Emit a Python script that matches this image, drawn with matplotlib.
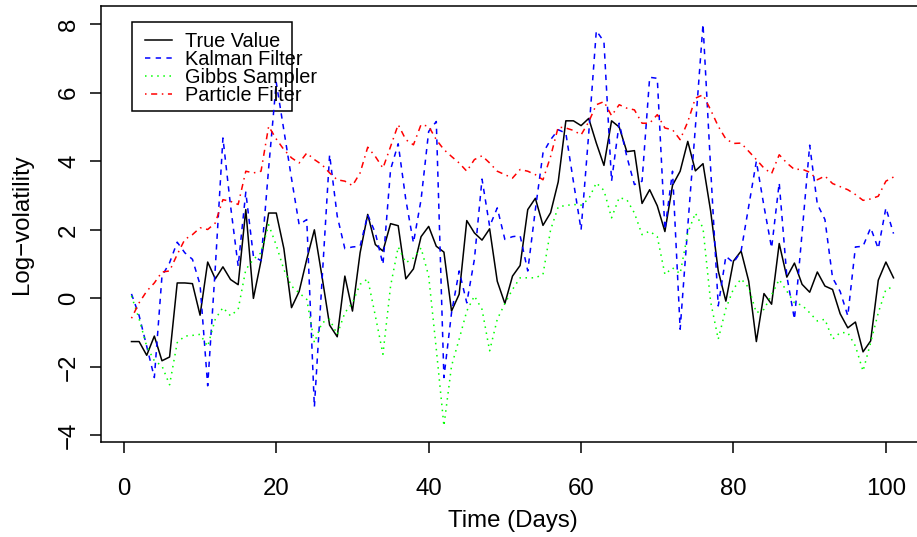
import numpy as np
import matplotlib
matplotlib.use("Agg")
import matplotlib.pyplot as plt
from matplotlib.patches import Rectangle

# one value per day (1..101)
days = np.arange(1, 102)

true_value = [-1.26, -1.26, -1.66, -1.10, -1.82, -1.71, 0.45, 0.45, 0.43, -0.49,
              1.06, 0.57, 0.92, 0.55, 0.40, 2.59, 0.00, 1.10, 2.49, 2.49,
              1.45, -0.27, 0.20, 1.14, 2.00, 0.64, -0.78, -1.12, 0.65, -0.37,
              1.33, 2.45, 1.57, 1.38, 2.18, 2.12, 0.57, 0.86, 1.80, 2.10,
              1.52, 1.35, -0.37, 0.12, 2.27, 1.91, 1.70, 2.03, 0.50, -0.15,
              0.65, 0.96, 2.59, 2.92, 2.13, 2.50, 3.40, 5.18, 5.18, 5.04,
              5.25, 4.53, 3.88, 5.18, 5.00, 4.28, 4.31, 2.77, 3.17, 2.70,
              1.95, 3.30, 3.71, 4.58, 3.72, 3.93, 2.55, 0.80, -0.08, 1.09,
              1.38, 0.50, -1.26, 0.14, -0.17, 1.60, 0.62, 1.03, 0.41, 0.18,
              0.77, 0.36, 0.26, -0.45, -0.86, -0.69, -1.56, -1.24, 0.53, 1.06,
              0.60]

kalman = [0.13, -0.50, -1.40, -2.31, 0.65, 1.04, 1.64, 1.33, 1.14, 0.40,
          -2.55, 0.90, 4.68, 2.70, 0.94, 3.10, 1.23, 1.10, 3.80, 6.30,
          4.90, 3.50, 2.15, 2.30, -3.17, 0.50, 4.19, 2.40, 1.45, 1.50,
          1.52, 2.44, 1.91, 0.99, 3.76, 4.51, 2.88, 1.62, 2.88, 4.87,
          5.16, -2.31, -0.42, 0.80, -0.13, 1.14, 3.48, 2.10, 2.64, 1.72,
          1.80, 1.83, 0.80, 2.59, 4.24, 4.63, 4.92, 4.82, 3.40, 2.00,
          4.80, 7.81, 7.49, 3.42, 5.11, 4.14, 3.32, 3.42, 6.45, 6.42,
          2.00, 3.71, -0.90, 2.10, 5.00, 8.00, 3.80, -0.22, 1.23, 1.04,
          1.38, 2.69, 4.00, 2.69, 1.47, 3.37, 0.65, -0.61, 1.91, 4.47,
          2.75, 2.30, 0.60, 0.20, -0.51, 1.50, 1.52, 2.06, 1.45, 2.64,
          1.89]

gibbs = [0.07, -0.60, -1.40, -1.82, -1.97, -2.52, -1.29, -1.10, -1.08, -1.05,
         -1.40, -0.60, -0.27, -0.51, -0.32, 0.84, 1.14, 1.33, 2.15, 1.55,
         0.84, 0.36, 0.16, -0.03, -1.29, -0.71, -0.61, -1.05, -0.42, -0.13,
         0.41, 0.57, -0.51, -1.63, 0.36, 1.50, 1.04, 1.18, 1.47, 0.65,
         -1.48, -3.72, -1.97, -1.19, -0.37, 0.07, -0.32, -1.53, -0.61, -0.15,
         0.26, 0.60, 0.60, 0.60, 0.70, 2.00, 2.67, 2.71, 2.74, 2.72,
         2.90, 3.37, 3.15, 2.35, 2.94, 2.88, 2.49, 1.86, 1.96, 1.80,
         0.70, 0.89, 0.72, 1.91, 2.49, 2.05, -0.10, -1.19, -0.30, 0.28,
         0.57, 0.31, -0.42, -0.32, 0.10, 0.55, 0.21, -0.13, -0.20, -0.42,
         -0.66, -0.61, -1.19, -1.00, -1.00, -1.39, -2.12, -1.29, -0.42, 0.26,
         0.34]

particle = [-0.58, -0.13, 0.21, 0.45, 0.77, 0.80, 1.28, 1.72, 1.86, 2.06,
            2.01, 2.20, 2.88, 2.83, 2.74, 3.71, 3.66, 3.71, 5.02, 4.65,
            4.34, 4.10, 3.95, 4.24, 4.05, 3.90, 3.66, 3.46, 3.42, 3.29,
            3.66, 4.41, 4.14, 3.80, 4.43, 5.07, 4.63, 4.48, 5.07, 5.02,
            4.63, 4.34, 4.14, 3.95, 3.71, 4.05, 4.16, 3.95, 3.71, 3.61,
            3.51, 3.76, 3.71, 3.61, 3.46, 4.14, 5.00, 4.97, 4.90, 4.77,
            5.15, 5.65, 5.74, 5.33, 5.65, 5.55, 5.50, 5.11, 5.11, 5.36,
            4.97, 4.92, 4.63, 5.15, 5.84, 5.94, 5.50, 5.02, 4.65, 4.52,
            4.53, 4.29, 4.05, 3.80, 3.64, 4.19, 3.95, 3.76, 3.77, 3.68,
            3.46, 3.57, 3.35, 3.26, 3.17, 3.03, 2.86, 2.90, 2.98, 3.42,
            3.54]

series = [true_value, kalman, gibbs, particle]
labels = ["True Value", "Kalman Filter", "Gibbs Sampler", "Particle Filter"]
colors = ["black", "#0000ff", "#00ff00", "#ff0000"]
dash_styles = [None, (3.5, 3.5), (1, 3), (1, 3, 4, 3)]

plt.rcParams["font.family"] = ["Liberation Sans", "DejaVu Sans"]

W, H = 917, 537
fig = plt.figure(figsize=(W / 100, H / 100), dpi=100)
# plot region in pixels: x 101..924 (runs past the right edge), y 6..442
L, R, T, B = 101, 924, 6, 442
ax = fig.add_axes([L / W, (H - B) / H, (R - L) / W, (B - T) / H])


def frac(px, py):
    # pixel position -> axes fraction
    return (px - L) / (R - L), (B - py) / (B - T)


lines = []
for vals, c, d in zip(series, colors, dash_styles):
    ln, = ax.plot(days, vals, color=c, lw=1.1)
    if d is not None:
        ln.set_dashes(d)
    lines.append(ln)

ax.set_xlim(-3, 105)
ax.set_ylim(-4.19, 8.53)
ax.set_xticks([0, 20, 40, 60, 80, 100])
ax.set_yticks([-4, -2, 0, 2, 4, 6, 8])

for s in ax.spines.values():
    s.set_linewidth(1.1)
ax.tick_params(direction="out", length=8, width=1.1, labelsize=17.3)
ax.tick_params(axis="x", pad=18)
ax.tick_params(axis="y", pad=7, labelrotation=90)
for lab in ax.get_yticklabels():
    lab.set_va("center")

ax.set_xlabel("Time (Days)", fontsize=17.3)
ax.xaxis.set_label_coords(0.5, frac(0, 510)[1])
ax.set_ylabel("Log\u2212volatility", fontsize=17.3)
ax.yaxis.set_label_coords(frac(33, 0)[0], 0.5)

# legend drawn by hand, R style (text runs past the box)
x0, y0 = frac(132, 22)
x1, y1 = frac(292, 111)
ax.add_patch(Rectangle((x0, y1), x1 - x0, y0 - y1, transform=ax.transAxes,
                       fill=False, ec="black", lw=1.1, clip_on=False))
rows = [40, 58, 76, 94]
for ry, lab, c, d in zip(rows, labels, colors, dash_styles):
    hx0, hy = frac(145, ry)
    hx1, _ = frac(172, ry)
    ln, = ax.plot([hx0, hx1], [hy, hy], color=c, lw=1.1, transform=ax.transAxes)
    if d is not None:
        ln.set_dashes(d)
    tx, ty = frac(185, ry + 7)
    ax.text(tx, ty, lab, transform=ax.transAxes, fontsize=14.3,
            va="baseline", ha="left")

fig.savefig("out.png", dpi=100)
